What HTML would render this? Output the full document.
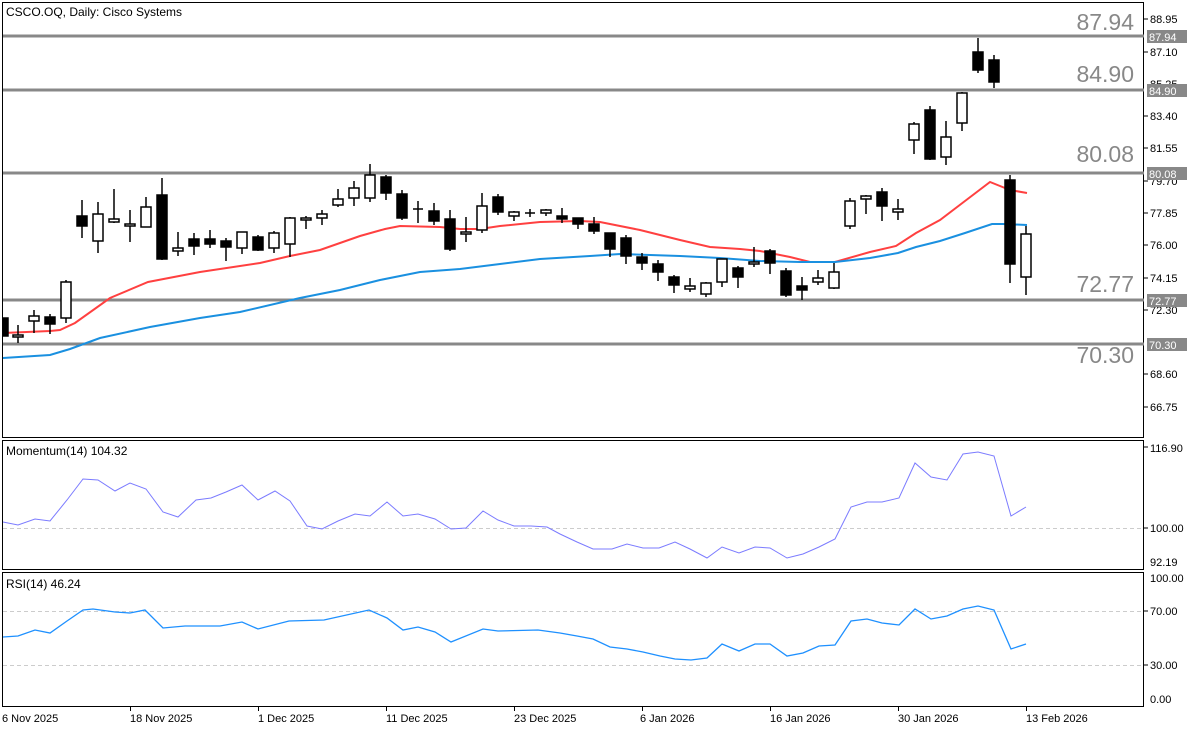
<!DOCTYPE html>
<html><head><meta charset="utf-8"><style>
html,body{margin:0;padding:0;background:#fff;}
svg{display:block;font-family:"Liberation Sans",sans-serif;}
</style></head><body>
<svg width="1200" height="730" viewBox="0 0 1200 730" xmlns="http://www.w3.org/2000/svg">
<rect width="1200" height="730" fill="#fff"/>
<!-- frames -->
<g fill="none" stroke="#000" stroke-width="1">
<rect x="2.5" y="2.5" width="1141" height="435"/>
<rect x="2.5" y="440.5" width="1141" height="129"/>
<rect x="2.5" y="572.5" width="1141" height="134"/>
</g>
<!-- horizontal levels -->
<g stroke="#888" stroke-width="3">
<line x1="3" y1="36" x2="1144" y2="36"/>
<line x1="3" y1="90" x2="1144" y2="90"/>
<line x1="3" y1="173" x2="1144" y2="173"/>
<line x1="3" y1="300" x2="1144" y2="300"/>
<line x1="3" y1="344" x2="1144" y2="344"/>
</g>
<g fill="#888" font-size="23" text-anchor="end">
<text x="1134" y="30">87.94</text>
<text x="1134" y="82">84.90</text>
<text x="1134" y="162">80.08</text>
<text x="1134" y="292">72.77</text>
<text x="1134" y="363">70.30</text>
</g>
<!-- MAs -->
<polyline fill="none" stroke="#ff4040" stroke-width="2" points="3,333 50,331 60,330 75,323 110,298 148,282 200,272 260,263 290,256 320,250 360,236 385,229 400,226 440,227 460,229 480,229 500,226 540,222 580,221 600,222 640,230 680,240 710,247 740,249 760,251 790,257 810,262 835,262 870,252 896,246 916,233 940,220 965,201 990,182 1000,186 1010,190 1027,193"/>
<polyline fill="none" stroke="#1a90e0" stroke-width="2" points="3,358 50,355 70,349 100,338 150,327 200,318 240,312 300,298 340,290 380,280 420,272 460,269 500,264 540,259 590,256 620,254 680,256 720,258 760,261 800,262 835,262 870,258 898,253 916,247 940,241 965,233 992,224 1003,224 1027,225"/>
<!-- candles -->
<g stroke="#000" stroke-width="1.5" id="c">
<line x1="18" y1="325" x2="18" y2="343"/><rect x="13" y="335" width="10" height="2" fill="#fff"/>
<line x1="34" y1="310" x2="34" y2="333"/><rect x="29" y="316" width="10" height="5" fill="#fff"/>
<line x1="50" y1="314" x2="50" y2="334"/><rect x="45" y="317" width="10" height="7" fill="#000"/>
<line x1="66" y1="280" x2="66" y2="323"/><rect x="61" y="282" width="10" height="36" fill="#fff"/>
<line x1="82" y1="200" x2="82" y2="238"/><rect x="77" y="216" width="10" height="10" fill="#000"/>
<line x1="98" y1="202" x2="98" y2="253"/><rect x="93" y="214" width="10" height="27" fill="#fff"/>
<line x1="114" y1="189" x2="114" y2="223"/><rect x="109" y="219" width="10" height="3" fill="#fff"/>
<line x1="130" y1="210" x2="130" y2="242"/><rect x="125" y="224" width="10" height="2" fill="#fff"/>
<line x1="146" y1="197" x2="146" y2="227"/><rect x="141" y="207" width="10" height="20" fill="#fff"/>
<line x1="162" y1="178" x2="162" y2="260"/><rect x="157" y="195" width="10" height="64" fill="#000"/>
<line x1="178" y1="232" x2="178" y2="256"/><rect x="173" y="248" width="10" height="3" fill="#fff"/>
<line x1="194" y1="233" x2="194" y2="255"/><rect x="189" y="239" width="10" height="7" fill="#000"/>
<line x1="210" y1="230" x2="210" y2="248"/><rect x="205" y="239" width="10" height="5" fill="#000"/>
<line x1="226" y1="238" x2="226" y2="261"/><rect x="221" y="241" width="10" height="6" fill="#000"/>
<line x1="242" y1="232" x2="242" y2="254"/><rect x="237" y="232" width="10" height="16" fill="#fff"/>
<line x1="258" y1="235" x2="258" y2="251"/><rect x="253" y="237" width="10" height="13" fill="#000"/>
<line x1="274" y1="231" x2="274" y2="253"/><rect x="269" y="233" width="10" height="15" fill="#fff"/>
<line x1="290" y1="217" x2="290" y2="257"/><rect x="285" y="218" width="10" height="26" fill="#fff"/>
<line x1="306" y1="216" x2="306" y2="229"/><rect x="301" y="218" width="10" height="2" fill="#fff"/>
<line x1="322" y1="210" x2="322" y2="225"/><rect x="317" y="214" width="10" height="4" fill="#fff"/>
<line x1="338" y1="189" x2="338" y2="207"/><rect x="333" y="199" width="10" height="6" fill="#fff"/>
<line x1="354" y1="181" x2="354" y2="206"/><rect x="349" y="188" width="10" height="10" fill="#fff"/>
<line x1="370" y1="164" x2="370" y2="202"/><rect x="365" y="175" width="10" height="23" fill="#fff"/>
<line x1="386" y1="175" x2="386" y2="200"/><rect x="381" y="177" width="10" height="16" fill="#000"/>
<line x1="402" y1="190" x2="402" y2="220"/><rect x="397" y="194" width="10" height="24" fill="#000"/>
<line x1="418" y1="201" x2="418" y2="223"/><line x1="413" y1="209" x2="423" y2="209"/>
<line x1="434" y1="203" x2="434" y2="225"/><rect x="429" y="211" width="10" height="10" fill="#000"/>
<line x1="450" y1="210" x2="450" y2="251"/><rect x="445" y="219" width="10" height="30" fill="#000"/>
<line x1="466" y1="217" x2="466" y2="242"/><rect x="461" y="232" width="10" height="2" fill="#fff"/>
<line x1="482" y1="193" x2="482" y2="233"/><rect x="477" y="206" width="10" height="24" fill="#fff"/>
<line x1="498" y1="194" x2="498" y2="215"/><rect x="493" y="197" width="10" height="15" fill="#000"/>
<line x1="514" y1="211" x2="514" y2="221"/><rect x="509" y="212" width="10" height="4" fill="#fff"/>
<line x1="530" y1="209" x2="530" y2="217"/><line x1="525" y1="213" x2="535" y2="213"/>
<line x1="546" y1="209" x2="546" y2="216"/><rect x="541" y="210" width="10" height="3" fill="#fff"/>
<line x1="562" y1="208" x2="562" y2="223"/><rect x="557" y="216" width="10" height="3" fill="#000"/>
<line x1="578" y1="218" x2="578" y2="229"/><rect x="573" y="218" width="10" height="6" fill="#000"/>
<line x1="594" y1="217" x2="594" y2="234"/><rect x="589" y="224" width="10" height="7" fill="#000"/>
<line x1="610" y1="233" x2="610" y2="257"/><rect x="605" y="233" width="10" height="16" fill="#000"/>
<line x1="626" y1="235" x2="626" y2="264"/><rect x="621" y="238" width="10" height="18" fill="#000"/>
<line x1="642" y1="253" x2="642" y2="270"/><rect x="637" y="257" width="10" height="6" fill="#000"/>
<line x1="658" y1="260" x2="658" y2="281"/><rect x="653" y="264" width="10" height="8" fill="#000"/>
<line x1="674" y1="275" x2="674" y2="293"/><rect x="669" y="277" width="10" height="8" fill="#000"/>
<line x1="690" y1="278" x2="690" y2="292"/><rect x="685" y="286" width="10" height="3" fill="#fff"/>
<line x1="706" y1="282" x2="706" y2="297"/><rect x="701" y="283" width="10" height="11" fill="#fff"/>
<line x1="722" y1="259" x2="722" y2="287"/><rect x="717" y="259" width="10" height="23" fill="#fff"/>
<line x1="738" y1="266" x2="738" y2="288"/><rect x="733" y="268" width="10" height="9" fill="#000"/>
<line x1="754" y1="247" x2="754" y2="267"/><rect x="749" y="262" width="10" height="2" fill="#fff"/>
<line x1="770" y1="249" x2="770" y2="274"/><rect x="765" y="251" width="10" height="12" fill="#000"/>
<line x1="786" y1="268" x2="786" y2="297"/><rect x="781" y="271" width="10" height="24" fill="#000"/>
<line x1="802" y1="277" x2="802" y2="300"/><rect x="797" y="286" width="10" height="4" fill="#000"/>
<line x1="818" y1="270" x2="818" y2="285"/><rect x="813" y="278" width="10" height="4" fill="#fff"/>
<line x1="834" y1="263" x2="834" y2="289"/><rect x="829" y="272" width="10" height="16" fill="#fff"/>
<line x1="850" y1="198" x2="850" y2="229"/><rect x="845" y="201" width="10" height="25" fill="#fff"/>
<line x1="866" y1="195" x2="866" y2="214"/><rect x="861" y="196" width="10" height="3" fill="#fff"/>
<line x1="882" y1="188" x2="882" y2="221"/><rect x="877" y="192" width="10" height="14" fill="#000"/>
<line x1="898" y1="199" x2="898" y2="220"/><rect x="893" y="209" width="10" height="3" fill="#fff"/>
<line x1="914" y1="122" x2="914" y2="154"/><rect x="909" y="124" width="10" height="16" fill="#fff"/>
<line x1="930" y1="106" x2="930" y2="160"/><rect x="925" y="110" width="10" height="49" fill="#000"/>
<line x1="946" y1="121" x2="946" y2="165"/><rect x="941" y="137" width="10" height="20" fill="#fff"/>
<line x1="962" y1="92" x2="962" y2="131"/><rect x="957" y="93" width="10" height="30" fill="#fff"/>
<line x1="978" y1="38" x2="978" y2="73"/><rect x="973" y="52" width="10" height="18" fill="#000"/>
<line x1="994" y1="55" x2="994" y2="88"/><rect x="989" y="60" width="10" height="22" fill="#000"/>
<line x1="1010" y1="175" x2="1010" y2="283"/><rect x="1005" y="180" width="10" height="84" fill="#000"/>
<line x1="1026" y1="226" x2="1026" y2="295"/><rect x="1021" y="234" width="10" height="43" fill="#fff"/>
<rect x="3" y="318" width="5" height="18" fill="#000"/>
</g>
<!-- right axis main -->
<g stroke="#000"><line x1="1144" y1="19" x2="1148" y2="19"/><line x1="1144" y1="52" x2="1148" y2="52"/><line x1="1144" y1="116" x2="1148" y2="116"/><line x1="1144" y1="148" x2="1148" y2="148"/><line x1="1144" y1="181" x2="1148" y2="181"/><line x1="1144" y1="213" x2="1148" y2="213"/><line x1="1144" y1="245" x2="1148" y2="245"/><line x1="1144" y1="278" x2="1148" y2="278"/><line x1="1144" y1="310" x2="1148" y2="310"/><line x1="1144" y1="374" x2="1148" y2="374"/><line x1="1144" y1="407" x2="1148" y2="407"/>
<line x1="1144" y1="447" x2="1148" y2="447"/><line x1="1144" y1="528" x2="1148" y2="528"/><line x1="1144" y1="611" x2="1148" y2="611"/><line x1="1144" y1="665" x2="1148" y2="665"/></g>
<g font-size="11" fill="#000">
<text x="1150" y="23">88.95</text><text x="1150" y="56">87.10</text><text x="1150" y="88">85.25</text><text x="1150" y="120">83.40</text><text x="1150" y="152">81.55</text><text x="1150" y="185">79.70</text><text x="1150" y="217">77.85</text><text x="1150" y="249">76.00</text><text x="1150" y="282">74.15</text><text x="1150" y="314">72.30</text><text x="1150" y="378">68.60</text><text x="1150" y="411">66.75</text>
<text x="1150" y="452">116.90</text><text x="1150" y="532">100.00</text><text x="1150" y="566">92.19</text>
<text x="1150" y="582">100.00</text><text x="1150" y="615">70.00</text><text x="1150" y="669">30.00</text><text x="1150" y="703">0.00</text>
</g>
<g fill="#888"><rect x="1147" y="30" width="40" height="13"/><rect x="1147" y="84" width="40" height="13"/><rect x="1147" y="167" width="40" height="13"/><rect x="1147" y="294" width="40" height="13"/><rect x="1147" y="338" width="40" height="13"/></g>
<g font-size="11" fill="#fff"><text x="1149" y="41">87.94</text><text x="1149" y="95">84.90</text><text x="1149" y="178">80.08</text><text x="1149" y="305">72.77</text><text x="1149" y="349">70.30</text></g>
<text x="6" y="16" font-size="12">CSCO.OQ, Daily:  Cisco Systems</text>
<!-- Momentum -->
<line x1="3" y1="528.5" x2="1143" y2="528.5" stroke="#ccc" stroke-dasharray="4,3"/>
<text x="6" y="455" font-size="12">Momentum(14) 104.32</text>
<polyline fill="none" stroke="#7b7bff" stroke-width="1" points="3,522 18,525 35,519 50,521 67,500 83,479 98,480 115,491 130,483 146,489 163,512 178,517 196,500 211,498 226,492 242,485 258,500 275,491 290,501 307,526 322,529 338,521 355,514 370,516 387,502 403,516 418,514 435,519 451,529 466,528 483,511 498,520 514,526 531,526 547,527 560,534 577,542 593,549 612,549 627,544 643,548 659,548 675,542 690,549 707,558 722,547 739,553 755,547 770,548 787,558 803,554 819,547 835,539 851,507 867,502 882,502 899,498 915,463 931,477 947,480 963,454 978,452 994,456 1011,516 1026,507"/>
<!-- RSI -->
<line x1="3" y1="611.5" x2="1143" y2="611.5" stroke="#ccc" stroke-dasharray="4,3"/>
<line x1="3" y1="665.5" x2="1143" y2="665.5" stroke="#ccc" stroke-dasharray="4,3"/>
<text x="6" y="588" font-size="12">RSI(14) 46.24</text>
<polyline fill="none" stroke="#1e90ff" stroke-width="1.3" points="3,637 18,636 35,630 50,633 67,621 83,610 93,609 115,612 130,613 145,610 163,628 185,626 220,626 242,622 258,629 289,621 324,620 369,610 387,618 403,630 418,627 435,632 451,642 483,629 498,631 538,630 560,633 577,636 593,639 610,647 627,649 643,652 660,656 675,659 691,660 707,658 722,644 739,651 755,644 770,644 787,656 803,653 819,646 835,645 851,621 867,619 882,623 899,625 915,609 931,619 947,616 963,609 978,606 994,610 1011,649 1026,644"/>
<!-- date axis -->
<g stroke="#000"><line x1="130.5" y1="707" x2="130.5" y2="711"/><line x1="258.5" y1="707" x2="258.5" y2="711"/><line x1="386.5" y1="707" x2="386.5" y2="711"/><line x1="514.5" y1="707" x2="514.5" y2="711"/><line x1="642.5" y1="707" x2="642.5" y2="711"/><line x1="770.5" y1="707" x2="770.5" y2="711"/><line x1="898.5" y1="707" x2="898.5" y2="711"/><line x1="1026.5" y1="707" x2="1026.5" y2="711"/></g>
<g font-size="11" fill="#000">
<text x="2" y="722">6 Nov 2025</text><text x="130" y="722">18 Nov 2025</text><text x="258" y="722">1 Dec 2025</text><text x="386" y="722">11 Dec 2025</text><text x="514" y="722">23 Dec 2025</text><text x="640" y="722">6 Jan 2026</text><text x="770" y="722">16 Jan 2026</text><text x="898" y="722">30 Jan 2026</text><text x="1026" y="722">13 Feb 2026</text>
</g>
</svg>
</body></html>
